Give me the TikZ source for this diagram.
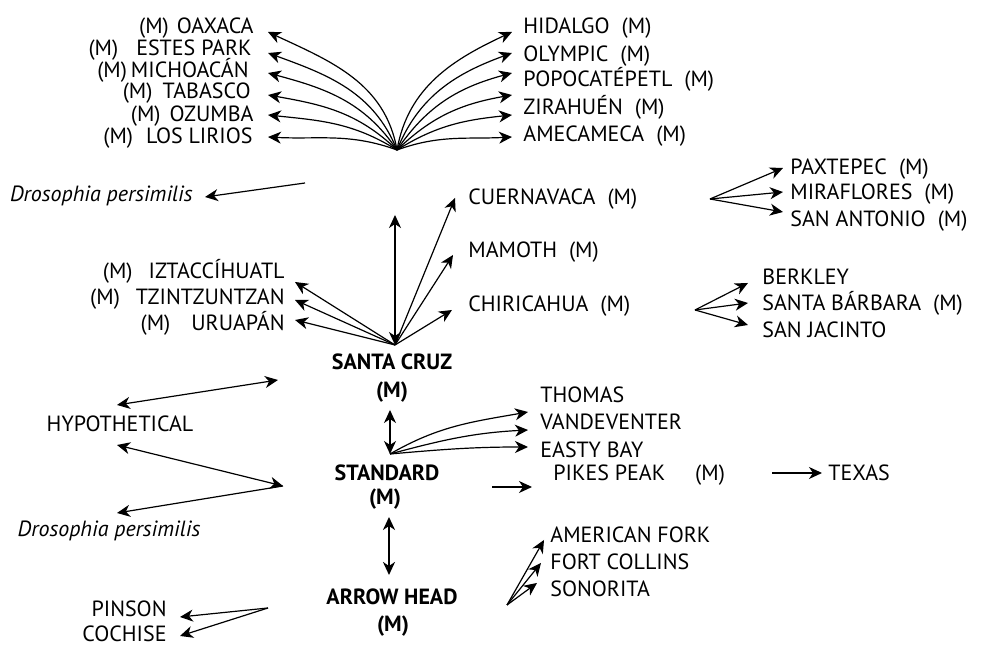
\documentclass[tikz,border=0pt]{standalone}
\usepackage{fontspec}
\setmainfont{PT Sans}
\usetikzlibrary{arrows.meta}
\usetikzlibrary{positioning}
\tikzset{place/.style={font=\fontsize{11}{13}\selectfont, inner sep=0pt, text height=7.7pt, text depth=0pt}}
\tikzset{hub/.style={place, font=\fontsize{11}{13}\selectfont\bfseries}}
\tikzset{species/.style={place, font=\fontsize{11}{13}\selectfont\itshape}}
\tikzset{link/.style={-{Stealth[length=6.5pt,width=6pt,inset=2pt]}, line width=0.6pt}}
\tikzset{twoway/.style={{Stealth[length=6.5pt,width=6pt,inset=2pt]}-{Stealth[length=6.5pt,width=6pt,inset=2pt]}, line width=0.6pt}}

\begin{document}
\begin{tikzpicture}[x=0.5pt, y=0.5pt]
\useasboundingbox (0,0) rectangle (992,646);

% top fan
\node[place, anchor=east] (oax) at (254,620) {(M)\hspace{4pt}OAXACA};
\node[place, anchor=east] (est) at (252,598) {(M)\hspace{9pt}ESTES PARK};
\node[place, anchor=east] (mic) at (249,576) {(M)\hspace{2pt}MICHOACÁN};
\node[place, anchor=east] (tab) at (251,555) {(M)\hspace{5pt}TABASCO};
\node[place, anchor=east] (ozu) at (254,532) {(M)\hspace{4.5pt}OZUMBA};
\node[place, anchor=east] (lir) at (253,510) {(M)\hspace{6.5pt}LOS LIRIOS};
\node[place, anchor=west] (hid) at (523,620) {HIDALGO\hspace{6pt}(M)};
\node[place, anchor=west] (oly) at (523,592) {OLYMPIC\hspace{6pt}(M)};
\node[place, anchor=west] (pop) at (523,567) {POPOCATÉPETL\hspace{6pt}(M)};
\node[place, anchor=west] (zir) at (523,539) {ZIRAHUÉN\hspace{6pt}(M)};
\node[place, anchor=west] (ame) at (523,512) {AMECAMECA\hspace{6pt}(M)};
\coordinate (fan) at (397,496);
\coordinate (l1) at (268,614); \coordinate (l2) at (268,593);
\coordinate (l3) at (268,573); \coordinate (l4) at (268,551);
\coordinate (l5) at (268,531); \coordinate (l6) at (268,509);
\coordinate (r1) at (512,614); \coordinate (r2) at (512,593);
\coordinate (r3) at (512,573); \coordinate (r4) at (512,551);
\coordinate (r5) at (512,531); \coordinate (r6) at (512,509);

\node[species, anchor=east] (dro1) at (193,452) {Drosophia persimilis};
\coordinate (d1a) at (305,463); \coordinate (d1b) at (205,449);

% santa cruz
\node[hub] (sc) at (392,284) {SANTA CRUZ};
\node[hub] (scm) at (392,256) {(M)};
\coordinate (sco) at (395,301); \coordinate (sct) at (395,431);
\node[place, anchor=east] (izt) at (285,375) {(M)\hspace{8pt}IZTACCÍHUATL};
\node[place, anchor=east] (tzi) at (285,349) {(M)\hspace{8pt}TZINTZUNTZAN};
\node[place, anchor=east] (uru) at (285,323) {(M)\hspace{10.5pt}URUAPÁN};
\coordinate (s1) at (295,364); \coordinate (s2) at (295,346); \coordinate (s3) at (295,326);
\node[place, anchor=west] (cue) at (468,449) {CUERNAVACA\hspace{6pt}(M)};
\node[place, anchor=west] (mam) at (468,396) {MAMOTH\hspace{6pt}(M)};
\node[place, anchor=west] (chi) at (468,342) {CHIRICAHUA\hspace{6pt}(M)};
\coordinate (s4) at (455,448); \coordinate (s5) at (453,391); \coordinate (s6) at (452,336);

\node[place, anchor=west] (pax) at (790,479) {PAXTEPEC\hspace{6pt}(M)};
\node[place, anchor=west] (mir) at (790,454) {MIRAFLORES\hspace{6pt}(M)};
\node[place, anchor=west] (san) at (790,427) {SAN ANTONIO\hspace{6pt}(M)};
\coordinate (cuo) at (710,447);
\coordinate (c1) at (783,478); \coordinate (c2) at (783,454); \coordinate (c3) at (783,434);

\node[place, anchor=west] (ber) at (762,369) {BERKLEY};
\node[place, anchor=west] (sba) at (762,343) {SANTA BÁRBARA\hspace{6pt}(M)};
\node[place, anchor=west] (sja) at (762,316) {SAN JACINTO};
\coordinate (cho) at (695,336);
\coordinate (h1) at (748,363); \coordinate (h2) at (748,343); \coordinate (h3) at (748,321);

% hypothetical
\node[place] (hyp) at (120,222) {HYPOTHETICAL};
\node[species] (dro2) at (109,117) {Drosophia persimilis};
\coordinate (y1) at (117,241); \coordinate (y2) at (278,266);
\coordinate (y3) at (117,201); \coordinate (yj) at (283,160);
\coordinate (y4) at (117,133);

% standard
\node[hub] (st) at (387,173) {STANDARD};
\node[hub] (stm) at (385,149) {(M)};
\coordinate (stt) at (390,236); \coordinate (sto) at (390,192);
\node[place, anchor=west] (tho) at (540,251) {THOMAS};
\node[place, anchor=west] (van) at (540,224) {VANDEVENTER};
\node[place, anchor=west] (eas) at (540,196) {EASTY BAY};
\coordinate (t1) at (528,234); \coordinate (t2) at (528,216); \coordinate (t3) at (528,199);
\node[place, anchor=west] (pik) at (553,173) {PIKES PEAK\hspace{15pt}(M)};
\coordinate (p1) at (492,159); \coordinate (p2) at (532,159);
\node[place, anchor=west] (tex) at (828,173) {TEXAS};
\coordinate (x1) at (772,173); \coordinate (x2) at (822,173);

% arrow head
\node[hub] (ah) at (392,49) {ARROW HEAD};
\node[hub] (ahm) at (393,22) {(M)};
\coordinate (at) at (389,129); \coordinate (ab) at (389,71);
\node[place, anchor=east] (pin) at (167,37) {PINSON};
\node[place, anchor=east] (coc) at (167,12) {COCHISE};
\coordinate (pio) at (268,38); \coordinate (n1) at (180,29); \coordinate (n2) at (180,10);
\node[place, anchor=west] (amf) at (550,111) {AMERICAN FORK};
\node[place, anchor=west] (foc) at (550,84) {FORT COLLINS};
\node[place, anchor=west] (son) at (550,57) {SONORITA};
\coordinate (amo) at (507,41);
\coordinate (a1) at (544,106); \coordinate (a2) at (541,83); \coordinate (a3) at (537,63);

\begin{scope}
 \draw[link] (fan) to[out=100, in=-25] (l1);
 \draw[link] (fan) to[out=112, in=-20] (l2);
 \draw[link] (fan) to[out=124, in=-15] (l3);
 \draw[link] (fan) to[out=136, in=-10] (l4);
 \draw[link] (fan) to[out=148, in=-6] (l5);
 \draw[link] (fan) to[out=160, in=-3] (l6);
 \draw[link] (fan) to[out=80, in=205] (r1);
 \draw[link] (fan) to[out=68, in=200] (r2);
 \draw[link] (fan) to[out=56, in=195] (r3);
 \draw[link] (fan) to[out=44, in=190] (r4);
 \draw[link] (fan) to[out=32, in=186] (r5);
 \draw[link] (fan) to[out=20, in=183] (r6);
 \draw[link] (d1a) -- (d1b);
 \draw[twoway] (sco) -- (sct);
 \draw[link] (sco) -- (s1);
 \draw[link] (sco) -- (s2);
 \draw[link] (sco) -- (s3);
 \draw[link] (sco) -- (s4);
 \draw[link] (sco) -- (s5);
 \draw[link] (sco) -- (s6);
 \draw[link] (cuo) -- (c1);
 \draw[link] (cuo) -- (c2);
 \draw[link] (cuo) -- (c3);
 \draw[link] (cho) -- (h1);
 \draw[link] (cho) -- (h2);
 \draw[link] (cho) -- (h3);
 \draw[twoway] (y1) -- (y2);
 \draw[twoway] (y3) -- (yj);
 \draw[link] (yj) -- (y4);
 \draw[twoway] (sto) -- (stt);
 \draw[link] (sto) to[out=30, in=190] (t1);
 \draw[link] (sto) to[out=15, in=183] (t2);
 \draw[link] (sto) to[out=5, in=180] (t3);
 \draw[link] (p1) -- (p2);
 \draw[link] (x1) -- (x2);
 \draw[twoway, line width=1.2pt] (ab) -- (at);
 \draw[link] (pio) -- (n1);
 \draw[link] (pio) -- (n2);
 \draw[link] (amo) -- (a1);
 \draw[link] (amo) -- (a2);
 \draw[link] (amo) -- (a3);
\end{scope}
\end{tikzpicture}
\end{document}
